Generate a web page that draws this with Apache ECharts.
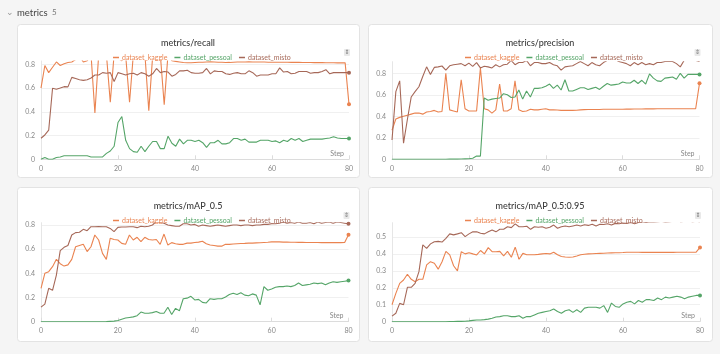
<!DOCTYPE html>
<html>
<head>
<meta charset="utf-8">
<script src="https://cdn.jsdelivr.net/npm/echarts@6/dist/echarts.min.js"></script>
<style>
html, body { margin: 0; padding: 0; background: #f5f5f5; }
#chart { width: 720px; height: 354px; }
</style>
</head>
<body>
<div id="chart"></div>
<script>
// series names / colours
var seriesNames = ["dataset_kaggle", "dataset_pessoal", "dataset_misto"];
var seriesColors = ["#ea8350", "#55a568", "#a66858"];

// metrics/recall
var recallKaggle = [
  0.60, 0.79, 0.73, 0.775, 0.82, 0.79, 0.805, 0.815, 0.82, 0.84,
  0.87, 0.82, 0.83, 0.88, 0.39, 0.89, 0.84, 0.88, 0.48, 0.89,
  0.85, 0.83, 0.87, 0.48, 0.89, 0.84, 0.86, 0.88, 0.41, 0.87,
  0.83, 0.88, 0.46, 0.89, 0.83, 0.825, 0.82, 0.815, 0.813, 0.813,
  0.815, 0.817, 0.818, 0.82, 0.821, 0.82, 0.818, 0.817, 0.815, 0.816,
  0.818, 0.819, 0.82, 0.82, 0.821, 0.82, 0.82, 0.819, 0.819, 0.818,
  0.818, 0.818, 0.817, 0.817, 0.817, 0.816, 0.816, 0.816, 0.815, 0.815,
  0.815, 0.814, 0.814, 0.814, 0.813, 0.813, 0.813, 0.812, 0.812, 0.812,
  0.463
];
var recallPessoal = [
  0.0, 0.015, 0.0, 0.0, 0.015, 0.02, 0.03, 0.03, 0.03, 0.03,
  0.03, 0.03, 0.03, 0.02, 0.02, 0.02, 0.02, 0.05, 0.07, 0.11,
  0.31, 0.36, 0.16, 0.09, 0.065, 0.06, 0.11, 0.065, 0.11, 0.15,
  0.15, 0.09, 0.09, 0.195, 0.135, 0.11, 0.17, 0.13, 0.16, 0.16,
  0.15, 0.16, 0.14, 0.10, 0.14, 0.14, 0.16, 0.13, 0.13, 0.14,
  0.175, 0.175, 0.16, 0.17, 0.145, 0.145, 0.145, 0.16, 0.16, 0.16,
  0.15, 0.155, 0.14, 0.16, 0.15, 0.175, 0.16, 0.175, 0.15, 0.16,
  0.17, 0.17, 0.17, 0.17, 0.175, 0.18, 0.19, 0.18, 0.175, 0.175,
  0.175
];
var recallMisto = [
  0.177, 0.205, 0.245, 0.598, 0.59, 0.60, 0.612, 0.61, 0.69, 0.68,
  0.67, 0.665, 0.67, 0.685, 0.71, 0.71, 0.73, 0.725, 0.73, 0.655,
  0.73, 0.72, 0.71, 0.72, 0.725, 0.71, 0.73, 0.72, 0.70, 0.72,
  0.765, 0.73, 0.74, 0.735, 0.70, 0.715, 0.745, 0.745, 0.75, 0.73,
  0.725, 0.725, 0.73, 0.765, 0.72, 0.745, 0.74, 0.74, 0.72, 0.715,
  0.725, 0.73, 0.72, 0.72, 0.745, 0.73, 0.70, 0.71, 0.71, 0.71,
  0.72, 0.72, 0.77, 0.735, 0.74, 0.72, 0.725, 0.74, 0.74, 0.74,
  0.725, 0.73, 0.73, 0.74, 0.755, 0.72, 0.73, 0.73, 0.73, 0.73,
  0.73
];

// metrics/precision
var precKaggle = [
  0.27, 0.375, 0.39, 0.40, 0.41, 0.42, 0.43, 0.43, 0.42, 0.44,
  0.445, 0.455, 0.44, 0.445, 0.80, 0.46, 0.45, 0.44, 0.74, 0.47,
  0.45, 0.45, 0.45, 0.85, 0.47, 0.46, 0.43, 0.46, 0.70, 0.45,
  0.45, 0.47, 0.73, 0.46, 0.445, 0.45, 0.465, 0.46, 0.46, 0.465,
  0.47, 0.46, 0.46, 0.458, 0.455, 0.455, 0.455, 0.455, 0.457, 0.46,
  0.462, 0.463, 0.463, 0.464, 0.464, 0.465, 0.465, 0.465, 0.466, 0.466,
  0.466, 0.467, 0.467, 0.468, 0.468, 0.468, 0.469, 0.469, 0.469, 0.47,
  0.47, 0.47, 0.47, 0.47, 0.47, 0.47, 0.47, 0.47, 0.47, 0.47,
  0.707
];
var precPessoal = [
  0.0, 0.0, 0.0, 0.0, 0.0, 0.001, 0.001, 0.001, 0.001, 0.001,
  0.001, 0.001, 0.001, 0.001, 0.001, 0.002, 0.002, 0.002, 0.003, 0.004,
  0.005, 0.01, 0.03, 0.03, 0.57, 0.55, 0.56, 0.565, 0.57, 0.61,
  0.60, 0.575, 0.58, 0.645, 0.56, 0.635, 0.58, 0.66, 0.66, 0.665,
  0.68, 0.70, 0.66, 0.69, 0.645, 0.74, 0.635, 0.635, 0.65, 0.665,
  0.665, 0.65, 0.66, 0.67, 0.65, 0.68, 0.705, 0.69, 0.695, 0.70,
  0.72, 0.71, 0.71, 0.735, 0.705, 0.735, 0.70, 0.795, 0.755, 0.73,
  0.725, 0.755, 0.76, 0.765, 0.745, 0.80, 0.755, 0.79, 0.79, 0.79,
  0.79
];
var precMisto = [
  0.18, 0.63, 0.73, 0.15, 0.37, 0.58, 0.63, 0.675, 0.77, 0.86,
  0.79, 0.855, 0.86, 0.868, 0.83, 0.87, 0.88, 0.885, 0.89, 0.87,
  0.895, 0.865, 0.90, 0.85, 0.865, 0.86, 0.85, 0.88, 0.86, 0.88,
  0.885, 0.92, 0.88, 0.90, 0.90, 0.92, 0.87, 0.90, 0.90, 0.89,
  0.89, 0.90, 0.88, 0.87, 0.83, 0.86, 0.865, 0.87, 0.89, 0.91,
  0.89, 0.87, 0.90, 0.88, 0.87, 0.90, 0.92, 0.92, 0.93, 0.91,
  0.90, 0.89, 0.87, 0.90, 0.88, 0.90, 0.88, 0.89, 0.88, 0.90,
  0.90, 0.91, 0.91, 0.91, 0.89, 0.86, 0.92, 0.92, 0.93, 0.92,
  0.91
];

// metrics/mAP_0.5
var map50Kaggle = [
  0.276, 0.40, 0.414, 0.455, 0.516, 0.48, 0.46, 0.47, 0.516, 0.62,
  0.63, 0.64, 0.58, 0.62, 0.717, 0.676, 0.565, 0.516, 0.69, 0.68,
  0.676, 0.648, 0.64, 0.717, 0.676, 0.698, 0.662, 0.698, 0.68, 0.676,
  0.68, 0.64, 0.725, 0.634, 0.654, 0.645, 0.64, 0.64, 0.65, 0.65,
  0.655, 0.658, 0.665, 0.645, 0.635, 0.63, 0.625, 0.625, 0.64, 0.64,
  0.643, 0.645, 0.647, 0.648, 0.65, 0.65, 0.652, 0.653, 0.655, 0.657,
  0.66, 0.66, 0.66, 0.658, 0.658, 0.657, 0.657, 0.656, 0.656, 0.655,
  0.655, 0.655, 0.655, 0.654, 0.654, 0.654, 0.654, 0.654, 0.654, 0.655,
  0.72
];
var map50Pessoal = [
  0.0, 0.0, 0.0, 0.0, 0.0, 0.0, 0.0, 0.0, 0.0, 0.0,
  0.0, 0.0, 0.0, 0.0, 0.0, 0.0, 0.0, 0.001, 0.003, 0.005,
  0.01, 0.02, 0.03, 0.035, 0.04, 0.05, 0.08, 0.07, 0.07, 0.075,
  0.085, 0.07, 0.07, 0.12, 0.06, 0.11, 0.09, 0.19, 0.195, 0.21,
  0.18, 0.185, 0.16, 0.155, 0.19, 0.185, 0.19, 0.19, 0.205, 0.225,
  0.235, 0.225, 0.24, 0.22, 0.215, 0.23, 0.22, 0.14, 0.29, 0.26,
  0.27, 0.285, 0.29, 0.29, 0.295, 0.29, 0.30, 0.32, 0.30, 0.305,
  0.31, 0.32, 0.315, 0.32, 0.305, 0.32, 0.33, 0.325, 0.33, 0.335,
  0.34
];
var map50Misto = [
  0.12, 0.146, 0.276, 0.26, 0.386, 0.588, 0.615, 0.63, 0.717, 0.737,
  0.74, 0.764, 0.753, 0.786, 0.785, 0.787, 0.786, 0.786, 0.772, 0.745,
  0.78, 0.783, 0.784, 0.786, 0.786, 0.778, 0.79, 0.785, 0.79, 0.80,
  0.83, 0.82, 0.815, 0.80, 0.795, 0.79, 0.79, 0.81, 0.81, 0.80,
  0.805, 0.79, 0.80, 0.795, 0.79, 0.795, 0.80, 0.795, 0.79, 0.795,
  0.80, 0.80, 0.795, 0.80, 0.80, 0.795, 0.80, 0.80, 0.805, 0.805,
  0.81, 0.81, 0.815, 0.825, 0.815, 0.82, 0.815, 0.825, 0.815, 0.815,
  0.82, 0.81, 0.825, 0.815, 0.82, 0.825, 0.815, 0.825, 0.82, 0.815,
  0.81
];

// metrics/mAP_0.5:0.95
var map5095Kaggle = [
  0.10, 0.167, 0.226, 0.246, 0.28, 0.25, 0.236, 0.25, 0.25, 0.335,
  0.354, 0.345, 0.31, 0.354, 0.415, 0.394, 0.33, 0.30, 0.413, 0.40,
  0.407, 0.40, 0.394, 0.42, 0.40, 0.437, 0.413, 0.413, 0.415, 0.388,
  0.415, 0.38, 0.44, 0.368, 0.403, 0.395, 0.395, 0.395, 0.397, 0.40,
  0.402, 0.40, 0.41, 0.395, 0.385, 0.382, 0.38, 0.382, 0.388, 0.395,
  0.398, 0.40, 0.401, 0.402, 0.403, 0.404, 0.405, 0.406, 0.407, 0.407,
  0.408, 0.41, 0.41, 0.41, 0.41, 0.409, 0.409, 0.409, 0.409, 0.409,
  0.409, 0.409, 0.409, 0.409, 0.41, 0.41, 0.41, 0.41, 0.41, 0.41,
  0.438
];
var map5095Pessoal = [
  0.0, 0.0, 0.0, 0.0, 0.0, 0.0, 0.0, 0.0, 0.0, 0.0,
  0.0, 0.0, 0.0, 0.0, 0.0, 0.001, 0.001, 0.002, 0.002, 0.003,
  0.005, 0.008, 0.01, 0.01, 0.012, 0.015, 0.02, 0.028, 0.03, 0.035,
  0.035, 0.03, 0.03, 0.035, 0.02, 0.03, 0.03, 0.04, 0.05, 0.055,
  0.06, 0.065, 0.075, 0.06, 0.05, 0.065, 0.07, 0.055, 0.07, 0.055,
  0.08, 0.085, 0.085, 0.085, 0.08, 0.095, 0.055, 0.11, 0.09, 0.085,
  0.105, 0.115, 0.12, 0.105, 0.125, 0.115, 0.13, 0.13, 0.125, 0.14,
  0.13, 0.145, 0.14, 0.145, 0.15, 0.145, 0.135, 0.145, 0.15, 0.155,
  0.155
];
var map5095Misto = [
  0.033, 0.05, 0.108, 0.10, 0.203, 0.203, 0.226, 0.295, 0.453, 0.433,
  0.459, 0.472, 0.474, 0.47, 0.492, 0.518, 0.512, 0.518, 0.525, 0.502,
  0.518, 0.53, 0.53, 0.522, 0.518, 0.53, 0.541, 0.53, 0.545, 0.545,
  0.56, 0.555, 0.577, 0.56, 0.56, 0.563, 0.545, 0.56, 0.557, 0.56,
  0.551, 0.557, 0.57, 0.551, 0.56, 0.565, 0.56, 0.565, 0.57, 0.565,
  0.572, 0.568, 0.575, 0.565, 0.575, 0.573, 0.578, 0.57, 0.58, 0.578,
  0.582, 0.58, 0.585, 0.578, 0.585, 0.59, 0.585, 0.59, 0.588, 0.59,
  0.592, 0.588, 0.59, 0.592, 0.595, 0.59, 0.592, 0.595, 0.59, 0.592,
  0.59
];

var panels = [
  { title: "metrics/recall", data: [recallKaggle, recallPessoal, recallMisto],
    yMax: 0.828, yInterval: 0.2,
    box: [17, 24, 342, 153], grid: { left: 41, top: 61, width: 308, height: 98.3 } },
  { title: "metrics/precision", data: [precKaggle, precPessoal, precMisto],
    yMax: 0.908, yInterval: 0.2,
    box: [368, 24, 344, 153], grid: { left: 392, top: 61.7, width: 307.5, height: 97.6 } },
  { title: "metrics/mAP_0.5", data: [map50Kaggle, map50Pessoal, map50Misto],
    yMax: 0.819, yInterval: 0.2,
    box: [17, 187, 342, 154], grid: { left: 41, top: 222.7, width: 307.5, height: 99 } },
  { title: "metrics/mAP_0.5:0.95", data: [map5095Kaggle, map5095Pessoal, map5095Misto],
    yMax: 0.584, yInterval: 0.1,
    box: [368, 187, 344, 154], grid: { left: 392, top: 222.7, width: 308, height: 99 } }
];

var FONT = "Lato";
var chart = echarts.init(document.getElementById("chart"));

var grids = [], xAxes = [], yAxes = [], legends = [], series = [];
var graphics = [
  { type: "text", left: 6, top: 8, style: { text: "⌄", font: "9px 'DejaVu Sans'", fill: "#999" } },
  { type: "text", left: 17, top: 8, style: { text: "metrics", font: "9.5px " + FONT, fill: "#444" } },
  { type: "text", left: 52, top: 8.5, style: { text: "5", font: "8px " + FONT, fill: "#777" } }
];

panels.forEach(function (p, i) {
  var b = p.box, g = p.grid;
  var cx = b[0] + b[2] / 2;
  graphics.push({
    type: "rect", z: -10,
    shape: { x: b[0] + 0.5, y: b[1] + 0.5, width: b[2], height: b[3], r: 3 },
    style: { fill: "#fff", stroke: "#e3e3e3", lineWidth: 1 }
  });
  graphics.push({
    type: "text", x: cx, y: b[1] + 19,
    style: { text: p.title, font: "500 9px " + FONT, fill: "#3a3a3a", align: "center", verticalAlign: "middle" }
  });
  graphics.push({
    type: "rect", shape: { x: g.left + g.width - 5, y: b[1] + 25, width: 6, height: 7, r: 1 },
    style: { fill: "#e9e9e9" }
  });
  graphics.push({
    type: "text", x: g.left + g.width - 2, y: b[1] + 28.5,
    style: { text: "⇕", font: "6px 'DejaVu Sans'", fill: "#777", align: "center", verticalAlign: "middle" }
  });
  graphics.push({
    type: "text", x: g.left + g.width - 5, y: g.top + g.height - 5.5,
    style: { text: "Step", font: "7px " + FONT, fill: "#888", align: "right", verticalAlign: "middle" }
  });

  grids.push({ left: g.left, top: g.top, width: g.width, height: g.height });
  xAxes.push({
    gridIndex: i, type: "value", min: 0, max: 80, interval: 20,
    axisLine: { lineStyle: { color: "#dcdcdc" } },
    axisTick: { show: true, inside: true, length: 4, lineStyle: { color: "#dcdcdc" } },
    axisLabel: { color: "#888", fontSize: 7, fontFamily: FONT, margin: 6 },
    splitLine: { show: false }
  });
  yAxes.push({
    gridIndex: i, type: "value", min: 0, max: p.yMax, interval: p.yInterval,
    axisLine: { show: true, lineStyle: { color: "#e6e6e6" } },
    axisTick: { show: false },
    axisLabel: { color: "#888", fontSize: 7, fontFamily: FONT, margin: 6, showMaxLabel: false },
    splitLine: { show: true, showMaxLine: false, lineStyle: { color: "#f0f0f0" } }
  });
  legends.push({
    left: cx - 80, top: b[1] + 25,
    itemWidth: 6, itemHeight: 1.5, itemGap: 7, icon: "rect",
    textStyle: { fontSize: 7, fontFamily: FONT, padding: [0, 0, 0, -2] },
    data: seriesNames.map(function (n, k) {
      return { name: n, textStyle: { color: seriesColors[k] } };
    })
  });
  p.data.forEach(function (vals, k) {
    var last = vals.length - 1;
    series.push({
      name: seriesNames[k], type: "line",
      xAxisIndex: i, yAxisIndex: i,
      color: seriesColors[k],
      data: vals.map(function (v, idx) { return [idx, v]; }),
      showSymbol: true, symbol: "circle",
      symbolSize: function (val, params) { return params.dataIndex === last ? 4 : 0; },
      lineStyle: { width: 1.1 },
      clip: true,
      z: k === 1 ? 3 : 2
    });
  });
});

chart.setOption({
  animation: false,
  backgroundColor: "#f5f5f5",
  graphic: graphics,
  grid: grids,
  xAxis: xAxes,
  yAxis: yAxes,
  legend: legends,
  series: series
});
</script>
</body>
</html>
